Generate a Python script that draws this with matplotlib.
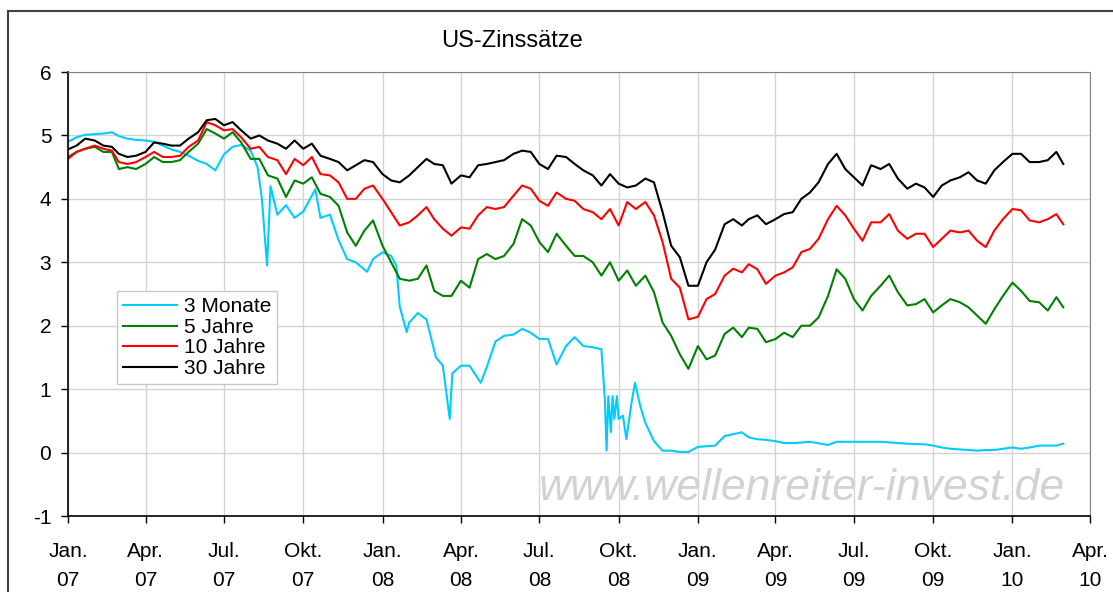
import matplotlib
matplotlib.use('Agg')
import matplotlib.pyplot as plt
from matplotlib.patches import Rectangle
import pandas as pd

plt.rcParams['font.family'] = ['Liberation Sans', 'DejaVu Sans']
plt.rcParams['axes.unicode_minus'] = False

# Stichtage fuer die langen Laufzeiten: 1., 11., 21. jedes Monats
months = pd.date_range('2007-01-01', '2010-02-01', freq='MS')
dates_long = [m + pd.Timedelta(days=d) for m in months for d in (0, 10, 20)]
dates_long.append(pd.Timestamp('2010-03-01'))

# 30 Jahre
y30 = [
    4.78, 4.84, 4.95, 4.92, 4.84, 4.82, 4.71, 4.66, 4.68, 4.74, 4.89, 4.87,
    4.84, 4.84, 4.95, 5.05, 5.24, 5.26, 5.16, 5.21, 5.08, 4.95, 5.00, 4.92,
    4.87, 4.79, 4.92, 4.79, 4.87, 4.68, 4.63, 4.58, 4.45, 4.53, 4.61, 4.58,
    4.39, 4.29, 4.26, 4.37, 4.50, 4.63, 4.55, 4.53, 4.24, 4.37, 4.34, 4.53,
    4.55, 4.58, 4.61, 4.71, 4.76, 4.74, 4.55, 4.47, 4.68, 4.66, 4.55, 4.45,
    4.37, 4.21, 4.39, 4.24, 4.18, 4.21, 4.32, 4.26, 3.79, 3.26, 3.08, 2.63,
    2.63, 3.00, 3.20, 3.60, 3.68, 3.58, 3.68, 3.74, 3.60, 3.68, 3.76, 3.79,
    4.00, 4.10, 4.26, 4.55, 4.71, 4.47, 4.34, 4.21, 4.53, 4.47, 4.55, 4.32,
    4.16, 4.24, 4.18, 4.03, 4.21, 4.29, 4.34, 4.42, 4.29, 4.24, 4.45, 4.58,
    4.71, 4.71, 4.58, 4.58, 4.61, 4.74, 4.55]

# 10 Jahre
y10 = [
    4.63, 4.74, 4.79, 4.84, 4.79, 4.76, 4.58, 4.55, 4.58, 4.66, 4.74, 4.66,
    4.66, 4.68, 4.82, 4.92, 5.21, 5.16, 5.08, 5.10, 4.97, 4.79, 4.82, 4.66,
    4.61, 4.39, 4.63, 4.53, 4.66, 4.39, 4.37, 4.26, 4.00, 4.00, 4.16, 4.21,
    4.00, 3.79, 3.58, 3.63, 3.74, 3.87, 3.68, 3.53, 3.42, 3.55, 3.53, 3.74,
    3.87, 3.84, 3.87, 4.05, 4.21, 4.16, 3.97, 3.89, 4.10, 4.00, 3.97, 3.84,
    3.79, 3.68, 3.84, 3.58, 3.95, 3.84, 3.95, 3.74, 3.32, 2.74, 2.60, 2.10,
    2.14, 2.42, 2.50, 2.79, 2.90, 2.84, 2.97, 2.89, 2.66, 2.79, 2.84, 2.92,
    3.16, 3.21, 3.37, 3.68, 3.89, 3.74, 3.53, 3.34, 3.63, 3.63, 3.76, 3.50,
    3.37, 3.45, 3.45, 3.24, 3.37, 3.50, 3.47, 3.50, 3.34, 3.24, 3.50, 3.68,
    3.84, 3.82, 3.66, 3.63, 3.68, 3.76, 3.60]

# 5 Jahre
y5 = [
    4.66, 4.74, 4.79, 4.82, 4.74, 4.74, 4.47, 4.50, 4.47, 4.55, 4.66, 4.58,
    4.58, 4.61, 4.74, 4.87, 5.10, 5.03, 4.95, 5.05, 4.89, 4.63, 4.63, 4.37,
    4.32, 4.03, 4.29, 4.24, 4.34, 4.08, 4.03, 3.89, 3.47, 3.26, 3.50, 3.66,
    3.26, 3.00, 2.74, 2.71, 2.74, 2.95, 2.55, 2.47, 2.47, 2.71, 2.60, 3.05,
    3.13, 3.05, 3.10, 3.29, 3.68, 3.58, 3.32, 3.16, 3.45, 3.26, 3.10, 3.10,
    3.00, 2.79, 3.00, 2.71, 2.87, 2.63, 2.79, 2.53, 2.05, 1.84, 1.55, 1.32,
    1.68, 1.47, 1.53, 1.87, 1.97, 1.82, 1.97, 1.95, 1.74, 1.79, 1.89, 1.82,
    2.00, 2.00, 2.13, 2.47, 2.89, 2.74, 2.42, 2.24, 2.47, 2.63, 2.79, 2.53,
    2.32, 2.34, 2.42, 2.21, 2.32, 2.42, 2.37, 2.29, 2.16, 2.03, 2.26, 2.47,
    2.68, 2.55, 2.39, 2.37, 2.24, 2.45, 2.29]

# 3 Monate (eigene Stichtage wegen der Ausreisser)
dates_3m = [
    '2007-01-01', '2007-01-11', '2007-01-21', '2007-02-01', '2007-02-11', '2007-02-21',
    '2007-03-01', '2007-03-11', '2007-03-21', '2007-04-01', '2007-04-11', '2007-04-21',
    '2007-05-01', '2007-05-11', '2007-05-21', '2007-06-01', '2007-06-11', '2007-06-21',
    '2007-07-01', '2007-07-11', '2007-07-21', '2007-08-01', '2007-08-09', '2007-08-14',
    '2007-08-20', '2007-08-24', '2007-09-01', '2007-09-11', '2007-09-21', '2007-10-01',
    '2007-10-15', '2007-10-21', '2007-11-01', '2007-11-11', '2007-11-21', '2007-12-01',
    '2007-12-14', '2007-12-21',
    '2008-01-01', '2008-01-11', '2008-01-17', '2008-01-21', '2008-01-29', '2008-02-01',
    '2008-02-11', '2008-02-21', '2008-03-03', '2008-03-11', '2008-03-19', '2008-03-22',
    '2008-04-01', '2008-04-11', '2008-04-24', '2008-05-01', '2008-05-11', '2008-05-21',
    '2008-06-01', '2008-06-11', '2008-06-21', '2008-07-01', '2008-07-11', '2008-07-21',
    '2008-08-01', '2008-08-11', '2008-08-21', '2008-09-01', '2008-09-11', '2008-09-15',
    '2008-09-17', '2008-09-19', '2008-09-22', '2008-09-24', '2008-09-26', '2008-09-29',
    '2008-10-01', '2008-10-06', '2008-10-10', '2008-10-16', '2008-10-20', '2008-10-26',
    '2008-11-01', '2008-11-11', '2008-11-21', '2008-12-01', '2008-12-11', '2008-12-21',
    '2009-01-01', '2009-01-11', '2009-01-21', '2009-02-01', '2009-02-11', '2009-02-21',
    '2009-03-01', '2009-03-11', '2009-03-21', '2009-04-01', '2009-04-11', '2009-04-24',
    '2009-05-11', '2009-06-01', '2009-06-11', '2009-07-01', '2009-08-01', '2009-09-01',
    '2009-09-21', '2009-10-01', '2009-10-11', '2009-10-21', '2009-11-01', '2009-11-11',
    '2009-11-21', '2009-12-01', '2009-12-11', '2009-12-21', '2010-01-01', '2010-01-11',
    '2010-01-21', '2010-02-01', '2010-02-11', '2010-02-21', '2010-03-01']
y3m = [
    4.90, 4.97, 5.01, 5.02, 5.03, 5.05, 4.99, 4.95, 4.93, 4.92, 4.90, 4.84,
    4.78, 4.74, 4.68, 4.60, 4.55, 4.45, 4.70, 4.82, 4.85, 4.76, 4.50, 4.00,
    2.95, 4.20, 3.75, 3.90, 3.70, 3.80, 4.15, 3.70, 3.75, 3.35, 3.05, 3.00,
    2.85, 3.05,
    3.16, 3.10, 2.95, 2.30, 1.90, 2.05, 2.20, 2.10, 1.50, 1.37, 0.53, 1.25,
    1.37, 1.37, 1.10, 1.35, 1.75, 1.84, 1.86, 1.95, 1.89, 1.79, 1.79, 1.39,
    1.68, 1.82, 1.68, 1.66, 1.63, 0.84, 0.03, 0.89, 0.32, 0.89, 0.53, 0.89,
    0.53, 0.58, 0.21, 0.79, 1.10, 0.74, 0.47, 0.18, 0.03, 0.03, 0.01, 0.01,
    0.09, 0.10, 0.11, 0.26, 0.29, 0.32, 0.24, 0.21, 0.20, 0.18, 0.15, 0.15,
    0.17, 0.12, 0.17, 0.17, 0.17, 0.14, 0.13, 0.11, 0.08, 0.06, 0.05, 0.04,
    0.03, 0.04, 0.04, 0.06, 0.08, 0.06, 0.08, 0.11, 0.11, 0.11, 0.14]

tick_dates = pd.date_range('2007-01-01', '2010-04-01', freq='QS')
month_names = {1: 'Jan.', 4: 'Apr.', 7: 'Jul.', 10: 'Okt.'}
tick_labels = [f"{month_names[d.month]}\n{d.year % 100:02d}" for d in tick_dates]

fig = plt.figure(figsize=(11.13, 5.92), dpi=100)
ax = fig.add_axes([68 / 1113, 1 - 516 / 592, (1090 - 68) / 1113, (516 - 72) / 592])

ax.plot(pd.to_datetime(dates_3m), y3m, color='#00CCFF', lw=1.5, label='3 Monate')
ax.plot(dates_long, y5, color='#008000', lw=1.5, label='5 Jahre')
ax.plot(dates_long, y10, color='#FF0000', lw=1.5, label='10 Jahre')
ax.plot(dates_long, y30, color='black', lw=1.5, label='30 Jahre')

ax.set_xlim(pd.Timestamp('2007-01-01'), pd.Timestamp('2010-04-01'))
ax.set_ylim(-1, 6)
ax.set_yticks(range(-1, 7))
ax.set_xticks(tick_dates)
ax.set_xticklabels(tick_labels, linespacing=1.65)
ax.tick_params(axis='both', direction='out', length=5, width=1, labelsize=15, colors='black')
ax.tick_params(axis='x', pad=14)
ax.tick_params(axis='y', pad=7)

ax.grid(True, color='#d4d4d4', lw=1)
ax.set_axisbelow(True)
for s in ('top', 'right'):
    ax.spines[s].set_color('#808080')
for s in ('left', 'bottom'):
    ax.spines[s].set_color('black')
    ax.spines[s].set_linewidth(1.2)

ax.text(0.718, 0.063, 'www.wellenreiter-invest.de', transform=ax.transAxes,
        ha='center', va='center', fontsize=32, style='italic', color='#d2d2d2', zorder=0.5)

leg = ax.legend(loc='upper left', bbox_to_anchor=(0.048, 0.507), fontsize=15,
                frameon=True, fancybox=False, edgecolor='#c8c8c8', framealpha=1,
                labelspacing=0.08, handlelength=2.6, handletextpad=0.3,
                borderpad=0.3, borderaxespad=0)
leg.get_frame().set_linewidth(1.0)

fig.text(512 / 1113, 1 - 41 / 592, 'US-Zinssätze', ha='center', va='center', fontsize=17)

fig.add_artist(Rectangle((8 / 1113, -0.1), 1.2, 1 - 11 / 592 + 0.1, transform=fig.transFigure,
                         fill=False, edgecolor='#404040', lw=1.5))

fig.savefig('out.png', dpi=100)
